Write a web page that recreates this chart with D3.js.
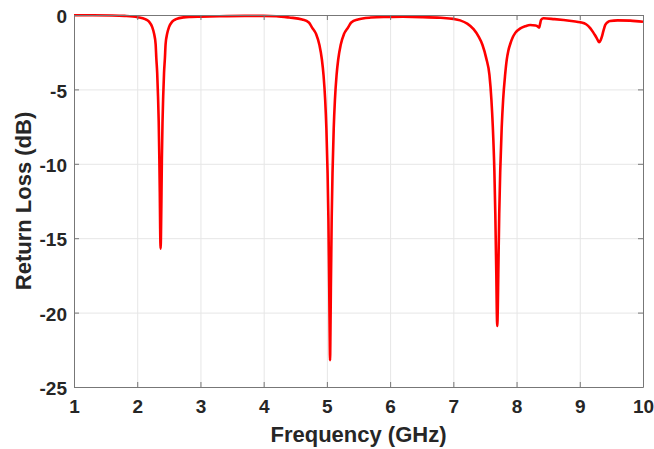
<!DOCTYPE html>
<html lang="en">
<head>
    <meta charset="utf-8">
    <title>Return Loss</title>
    <script src="https://d3js.org/d3.v7.min.js"></script>
    <style>
        html, body { margin: 0; padding: 0; background: #fff; overflow: hidden; }
        svg { display: block; }
        text { font-family: 'Liberation Sans', Arial, sans-serif; font-weight: bold; }
    </style>
</head>
<body>
    <svg width="654" height="449" id="mainsvg"></svg>

    <script>
        // frequency points (GHz)
        const freqGHz = [
            1.0, 1.3, 1.6, 1.8, 2.005, 2.126, 2.187, 2.236, 2.266, 2.291, 2.302, 2.316, 2.329, 2.340, 2.350, 2.357, 2.363, 2.370,
            2.377, 2.384, 2.390, 2.400, 2.411, 2.424, 2.438, 2.449, 2.474, 2.504, 2.553, 2.614, 2.735, 2.85, 3.0, 3.3, 3.7, 4.0, 4.2,
            4.405, 4.61, 4.715, 4.766, 4.831, 4.882, 4.921, 4.947, 4.973, 4.992, 5.011, 5.024, 5.037, 5.044, 5.050,
            5.056, 5.063, 5.076, 5.089, 5.108, 5.127, 5.153, 5.179, 5.218, 5.269, 5.334, 5.385, 5.49, 5.695, 5.9, 6.2, 6.5,
            6.8, 7.0, 7.108, 7.22, 7.32, 7.40, 7.46, 7.52, 7.571, 7.602, 7.625, 7.649, 7.664, 7.680, 7.687, 7.695,
            7.703, 7.711, 7.726, 7.742, 7.765, 7.788, 7.819, 7.845, 7.87, 7.90, 7.94, 7.98, 8.06, 8.14, 8.215, 8.30, 8.321, 8.358, 8.372, 8.389, 8.426,
            8.6, 8.742, 8.9, 9.006, 9.1, 9.165, 9.21, 9.244, 9.28, 9.307, 9.33, 9.35, 9.375, 9.402, 9.44, 9.481, 9.6, 9.797, 10.0
        ]
        // return loss (dB) at each frequency above
        const returnLossDB = [
            -0.02, -0.02, -0.03, -0.06, -0.15, -0.28, -0.45, -0.8, -1.25, -1.95, -2.89, -3.91, -5.46, -7.19, -9.69, -11.91, -14.37, -15.7,
            -14.37, -11.91, -9.69, -7.19, -5.46, -3.91, -2.89, -1.95, -1.25, -0.8, -0.45, -0.28, -0.16, -0.13, -0.11, -0.08, -0.06, -0.06, -0.08,
            -0.17, -0.3, -0.5, -0.85, -1.3, -2.01, -2.99, -4.05, -5.71, -7.63, -10.61, -13.66, -18.34, -21.38, -23.2,
            -21.38, -18.34, -13.66, -10.61, -7.63, -5.71, -4.05, -2.99, -2.01, -1.3, -0.85, -0.5, -0.3, -0.17, -0.13, -0.12, -0.14,
            -0.19, -0.26, -0.36, -0.58, -0.95, -1.45, -2.0, -2.9, -4.03, -5.68, -7.57, -10.46, -13.35, -17.47, -19.76, -20.9,
            -19.76, -17.47, -13.35, -10.46, -7.57, -5.68, -4.03, -3.0, -2.4, -1.95, -1.5, -1.2, -0.9, -0.75, -0.67, -0.7, -0.73, -0.85, -0.6, -0.32, -0.22,
            -0.28, -0.34, -0.42, -0.49, -0.62, -0.88, -1.15, -1.38, -1.65, -1.83, -1.7, -1.45, -1.05, -0.68, -0.48, -0.4, -0.36, -0.38, -0.45
        ]
        const xTicks = [1, 2, 3, 4, 5, 6, 7, 8, 9, 10]
        const yTicks = [0, -5, -10, -15, -20, -25]

        const xAxisLabel = 'Frequency (GHz)'
        const yAxisLabel = 'Return Loss (dB)'

        const svg = d3.select('#mainsvg')
        const width = +svg.attr('width')
        const height = +svg.attr('height')
        const margin = {top: 15, right: 11, bottom: 62, left: 74}
        const innerWidth = width - margin.left - margin.right
        const innerHeight = height - margin.top - margin.bottom

        const axisColor = '#777'
        const gridColor = '#e6e6e6'
        const textColor = '#262626'

        const xScale = d3.scaleLinear().domain([1, 10]).range([0, innerWidth])
        const yScale = d3.scaleLinear().domain([-25, 0]).range([innerHeight, 0])

        const g = svg.append('g')
            .attr('transform', `translate(${margin.left}, ${margin.top})`)
            .attr('id', 'maingroup')

        // grid
        const gridX = g.append('g')
            .attr('transform', `translate(0, ${innerHeight})`)
            .call(d3.axisBottom(xScale).tickValues(xTicks).tickSize(-innerHeight))
        const gridY = g.append('g')
            .call(d3.axisLeft(yScale).tickValues(yTicks).tickSize(-innerWidth))
        ;[gridX, gridY].forEach(gr => {
            gr.select('.domain').remove()
            gr.selectAll('text').remove()
            gr.selectAll('line').attr('stroke', gridColor)
        })

        // curve
        const data = d3.zip(freqGHz, returnLossDB)
        const line = d3.line()
            .x(d => xScale(d[0]))
            .y(d => yScale(d[1]))
            .curve(d3.curveMonotoneX)
        g.append('path')
            .datum(data)
            .attr('d', line)
            .attr('fill', 'none')
            .attr('stroke', '#ff0000')
            .attr('stroke-width', 2.6)
            .attr('stroke-linejoin', 'round')

        // box axes, ticks pointing inward
        const xAxis = d3.axisBottom(xScale).tickValues(xTicks).tickSizeInner(-5).tickSizeOuter(0)
            .tickPadding(13).tickFormat(d => d)
        const yAxis = d3.axisLeft(yScale).tickValues(yTicks).tickSizeInner(-5).tickSizeOuter(0)
            .tickPadding(7).tickFormat(d => d)

        const xAxisGroup = g.append('g').call(xAxis)
            .attr('transform', `translate(0, ${innerHeight})`)
        const yAxisGroup = g.append('g').call(yAxis)
        const topAxis = g.append('g')
            .call(d3.axisTop(xScale).tickValues(xTicks).tickSizeInner(-5).tickSizeOuter(0))
        const rightAxis = g.append('g').attr('transform', `translate(${innerWidth}, 0)`)
            .call(d3.axisRight(yScale).tickValues(yTicks).tickSizeInner(-5).tickSizeOuter(0))
        topAxis.selectAll('text').remove()
        rightAxis.selectAll('text').remove()

        ;[xAxisGroup, yAxisGroup, topAxis, rightAxis].forEach(a => {
            a.selectAll('.domain, .tick line').attr('stroke', axisColor)
        })
        ;[xAxisGroup, yAxisGroup].forEach(a => {
            a.selectAll('.tick text')
                .attr('fill', textColor)
                .attr('font-size', '19px')
        })
        yAxisGroup.selectAll('.tick text').attr('dy', '0.4em')

        xAxisGroup.append('text')
            .text(xAxisLabel)
            .attr('x', innerWidth / 2)
            .attr('y', 55)
            .attr('fill', textColor)
            .attr('font-size', '22px')
            .attr('text-anchor', 'middle')

        yAxisGroup.append('text')
            .text(yAxisLabel)
            .attr('transform', 'rotate(-90)')
            .attr('x', -innerHeight / 2)
            .attr('y', -43)
            .attr('fill', textColor)
            .attr('font-size', '22px')
            .attr('text-anchor', 'middle')
    </script>
</body>
</html>
